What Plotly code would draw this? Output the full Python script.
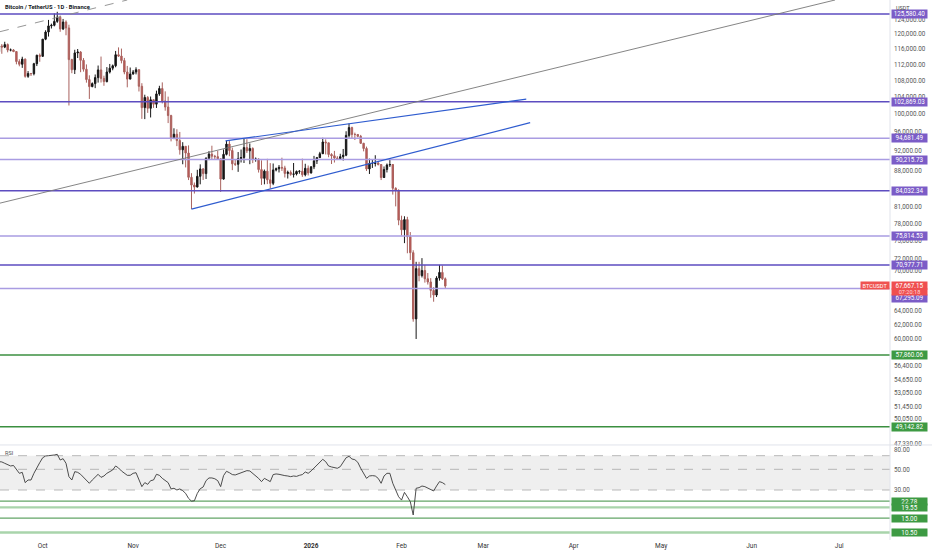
import math
import pandas as pd
import plotly.graph_objects as go
from plotly.subplots import make_subplots

# daily candles, 2025-09-16 .. 2026-02-16
dates = pd.date_range('2025-09-16', '2026-02-16', freq='D')

opens = [
    # sep
    115270, 116780, 116470, 117140, 115690, 115720, 115300, 112700, 112020, 113330, 108990, 109700, 109640, 112160, 114340,
    # oct
    114050, 118590, 120530, 122230, 122390, 123480, 124660, 121380, 123300, 121660, 113210, 110640, 114950, 115170, 113030, 110760,
    108190, 106470, 107200, 108670, 110590, 108480, 107690, 110070, 111030, 111640, 114470, 114120, 112960, 110060, 108310,
    # nov
    109560, 110070, 110640, 106550, 101500, 103890, 101350, 103340, 102310, 104720, 106010, 103060, 101650, 99690, 94600,
    95550, 94180, 92220, 92960, 91550, 86640, 85130, 84740, 86830, 88300, 87370, 90480, 91330, 90890, 90800,
    # dec
    90360, 86290, 91280, 93430, 92080, 89330, 89240, 90400, 90630, 92690, 92020, 92510, 90270, 90300, 88170, 86430,
    87860, 86140, 85460, 88100, 88340, 88620, 88490, 87410, 87610, 87230, 87300, 87800, 87840, 87140, 88430,
    # jan
    87510, 88730, 89940, 90600, 91410, 93880, 93700, 91250, 90980, 90510, 90400, 90800, 91100, 95300, 97000, 95500,
    95500, 95100, 93600, 92500, 88300, 89400, 89400, 89500, 89200, 86600, 88200, 89100, 89200, 84500, 84100,
    # feb
    78600, 76900, 78700, 75700, 73000, 62800, 70400, 69300, 70100, 68800, 68300, 67000, 66300, 68900, 69800, 68800,
]
highs = [
    116800, 117290, 117900, 117450, 116100, 115950, 115400, 113300, 113950, 113500, 110300, 109740, 112380, 114470, 114800,
    118650, 121020, 123900, 122850, 125710, 126200, 125130, 124170, 123770, 122550, 113430, 115770, 115970, 115420, 113600, 111980,
    109240, 107500, 109450, 111700, 114000, 109150, 111300, 112100, 111950, 115460, 116400, 116080, 113650, 111600, 111190,
    110560, 111250, 110770, 107300, 104530, 104200, 104100, 103450, 105500, 106670, 107500, 105330, 104080, 99870, 96850,
    96640, 96050, 93840, 92990, 93160, 87460, 85620, 88130, 89230, 88480, 90660, 91950, 93090, 91170, 92000,
    90420, 92310, 94150, 94080, 92690, 90290, 91760, 92290, 94590, 94480, 93560, 92750, 90630, 90470, 90050, 88180,
    90360, 89480, 89400, 88580, 89080, 90590, 88940, 87960, 88000, 89500, 87990, 88070, 90400, 89350, 89000,
    88830, 90960, 90740, 91800, 94790, 94440, 93740, 91520, 92000, 90900, 91400, 92400, 96200, 97900, 97200, 95900,
    95600, 95400, 93700, 92900, 90400, 90300, 91100, 89800, 89300, 88800, 89400, 90500, 89300, 84700, 84300,
    79400, 79300, 79200, 76500, 73400, 71500, 71500, 72100, 71000, 69700, 68900, 67500, 69200, 71000, 70900, 69000,
]
lows = [
    114400, 114720, 116200, 115100, 115350, 115150, 112000, 111500, 111100, 108650, 108620, 109070, 109230, 111560, 112660,
    113980, 118320, 119300, 121500, 122100, 123080, 120600, 121070, 119650, 102000, 109760, 109560, 113620, 110020, 110160, 107430,
    103530, 106320, 106100, 107450, 107470, 106670, 107500, 109700, 110500, 111250, 113900, 112250, 109500, 106300, 108250,
    109400, 109470, 105300, 98940, 98890, 100300, 99260, 101450, 101430, 104270, 102480, 100800, 98000, 94010, 94560,
    93000, 91220, 89250, 88610, 86100, 80600, 83500, 84680, 85270, 86120, 86310, 90090, 90180, 90160, 90340,
    83820, 86180, 91060, 90890, 88060, 88910, 87720, 89610, 89500, 91560, 89260, 89480, 89770, 87580, 85150, 85270,
    85310, 84450, 85110, 87820, 87600, 87900, 86600, 86400, 86950, 86600, 87010, 87350, 86720, 86830, 87000,
    87370, 88270, 89300, 90530, 91360, 91250, 90680, 89300, 89600, 90100, 90200, 90000, 90900, 94800, 94700, 94300,
    94900, 93500, 91900, 87900, 87300, 88500, 88800, 89000, 86100, 86500, 87600, 88700, 83300, 81100, 77700,
    75900, 74600, 72900, 71800, 62400, 60000, 68400, 69000, 68200, 67900, 65900, 65300, 66000, 68500, 68600, 67300,
]
closes = [
    116780, 116470, 117140, 115690, 115720, 115300, 112700, 112020, 113330, 108990, 109700, 109640, 112160, 114340, 114050,
    118590, 120530, 122230, 122390, 123480, 124660, 121380, 123300, 121660, 113210, 110640, 114950, 115170, 113030, 110760, 108190,
    106470, 107200, 108670, 110590, 108480, 107690, 110070, 111030, 111640, 114470, 114120, 112960, 110060, 108310, 109560,
    110070, 110640, 106550, 101500, 103890, 101350, 103340, 102310, 104720, 106010, 103060, 101650, 99690, 94600, 95550,
    94180, 92220, 92960, 91550, 86640, 85130, 84740, 86830, 88300, 87370, 90480, 91330, 90890, 90800, 90360,
    86290, 91280, 93430, 92080, 89330, 89240, 90400, 90630, 92690, 92020, 92510, 90270, 90300, 88170, 86430, 87860,
    86140, 85460, 88100, 88340, 88620, 88490, 87410, 87610, 87230, 87300, 87800, 87840, 87140, 88430, 87510,
    88730, 89940, 90600, 91410, 93880, 93700, 91250, 90980, 90510, 90400, 90800, 91100, 95300, 97000, 95500, 95500,
    95100, 93600, 92500, 88300, 89400, 89400, 89500, 89200, 86600, 88200, 89100, 89200, 84500, 84100, 78600,
    76900, 78700, 75700, 73000, 62800, 70400, 69300, 70100, 68800, 68300, 67000, 66300, 68900, 69800, 68800, 67667.15,
]

rsi_values = [
    60.4, 60.0, 58.0, 55.7, 54.3, 55.0, 50.0, 45.3, 46.4, 36.0, 38.4, 38.4, 45.3, 52.6, 59.0,
    66.5, 69.5, 70.0, 70.0, 71.2, 72.4, 62.9, 65.0, 58.0, 41.7, 38.4, 47.2, 46.4, 44.2, 41.0, 38.4,
    35.4, 38.4, 41.3, 44.2, 41.0, 42.4, 45.3, 47.2, 49.2, 54.3, 51.7, 48.0, 45.0, 43.1, 43.1,
    45.3, 46.0, 39.0, 32.6, 36.0, 34.5, 37.8, 38.4, 44.2, 43.1, 40.0, 37.8, 36.0, 30.8, 31.3,
    30.0, 30.8, 29.5, 27.6, 24.4, 22.8, 23.0, 27.6, 31.0, 32.3, 37.8, 40.4, 40.4, 39.6, 37.8,
    32.6, 42.8, 47.6, 46.0, 43.9, 43.5, 44.6, 46.0, 47.6, 48.4, 48.0, 45.3, 43.1, 40.0, 36.9, 40.0,
    38.4, 36.9, 43.9, 44.6, 44.2, 43.1, 42.8, 42.4, 41.7, 42.4, 42.0, 43.1, 43.9, 46.8, 45.3,
    48.0, 51.7, 55.2, 59.0, 64.0, 60.4, 54.3, 53.0, 52.2, 51.3, 53.4, 59.0, 66.5, 68.9, 64.5, 63.4,
    59.5, 51.3, 45.3, 40.0, 42.4, 42.8, 42.4, 40.0, 35.4, 42.4, 45.3, 45.3, 35.4, 30.0, 25.4,
    23.4, 28.3, 25.4, 22.5, 16.2, 31.3, 31.8, 33.1, 32.6, 31.3, 30.0, 29.3, 33.1, 36.9, 36.0, 34.3,
]

# horizontal levels drawn on the chart
purple_levels = [125580.40, 102869.03, 94681.49, 90215.73, 84032.34, 75814.53, 70977.71, 67295.09]
purple_strong = [True, True, False, False, True, False, True, False]
green_levels = [57860.06, 49142.82]
rsi_levels = [22.78, 19.55, 15.00, 10.50]
rsi_level_light = [False, True, False, True]
rsi_band = [30, 70]
rsi_guides = [70, 50, 30]

last_price = 67667.15
countdown = '07:20:18'

# drawings: (dates, prices)
gray_line_x = ['2025-09-16 09:00', '2026-06-29 14:00']
gray_line_y = [81700, 129640]
dashed_line_x = ['2025-09-16 09:00', '2025-10-30 00:00']
dashed_line_y = [120630, 129640]
wedge_top_x = ['2025-12-02 16:00', '2026-03-15 18:00']
wedge_top_y = [94100, 103500]
wedge_bot_x = ['2025-11-21 00:00', '2026-03-17 02:00']
wedge_bot_y = [80600, 98100]

price_ticks = [124000, 120000, 116000, 112000, 108000, 104000, 100000, 96000, 92000, 88000, 81000, 78000,
               75000, 72000, 70000, 64000, 62000, 60000, 56400, 54650, 53050, 51450, 50050, 47330]
rsi_ticks = [80, 50, 30]
month_ticks = ['2025-10-01', '2025-11-01', '2025-12-01', '2026-01-01', '2026-02-01',
               '2026-03-01', '2026-04-01', '2026-05-01', '2026-06-01', '2026-07-01']
month_labels = ['Oct', 'Nov', 'Dec', '<b>2026</b>', 'Feb', 'Mar', 'Apr', 'May', 'Jun', 'Jul']

view_start = '2025-09-16 09:00'
view_end = '2026-07-18 10:00'

PURPLE_DARK = '#5d4cc0'
PURPLE_LIGHT = '#a99ce2'
PURPLE_TAG = '#7b5cc7'
GREEN = '#3b8f40'
GREEN_TAG = '#3d9a43'
RED_TAG = '#ef4f4f'
FONT = 'Roboto'

fig = make_subplots(rows=2, cols=1, shared_xaxes=True, vertical_spacing=0.004)


def hline(level, color, width, row, dash='solid'):
    fig.add_trace(go.Scatter(x=[view_start, view_end], y=[level, level], mode='lines',
                             line=dict(color=color, width=width, dash=dash),
                             hoverinfo='skip', showlegend=False), row=row, col=1)


# rsi band
fig.add_trace(go.Scatter(x=[view_start, view_end], y=[rsi_band[0]] * 2, mode='lines',
                         line=dict(width=0), hoverinfo='skip', showlegend=False), row=2, col=1)
fig.add_trace(go.Scatter(x=[view_start, view_end], y=[rsi_band[1]] * 2, mode='lines',
                         line=dict(width=0), fill='tonexty', fillcolor='#efefef',
                         hoverinfo='skip', showlegend=False), row=2, col=1)
for g in rsi_guides:
    hline(g, '#a8a8a8', 0.8, 2, dash='dash')
for lvl, light in zip(rsi_levels, rsi_level_light):
    if light:
        hline(lvl, '#a9d4ab', 2.4, 2)
    else:
        hline(lvl, '#63a567', 1.2, 2)

fig.add_trace(go.Scatter(x=dates, y=rsi_values, mode='lines', line=dict(color='#3a3a3a', width=0.9),
                         hoverinfo='skip', showlegend=False), row=2, col=1)

# price pane levels + drawings
for lvl, strong in zip(purple_levels, purple_strong):
    if strong:
        hline(lvl, PURPLE_DARK, 1.6, 1)
    else:
        hline(lvl, PURPLE_LIGHT, 1.5, 1)
for lvl in green_levels:
    hline(lvl, GREEN, 1.5, 1)

fig.add_trace(go.Scatter(x=gray_line_x, y=gray_line_y, mode='lines', line=dict(color='#777777', width=0.9),
                         hoverinfo='skip', showlegend=False), row=1, col=1)
fig.add_trace(go.Scatter(x=dashed_line_x, y=dashed_line_y, mode='lines',
                         line=dict(color='#8a8a8a', width=0.9, dash='dash'),
                         hoverinfo='skip', showlegend=False), row=1, col=1)
for xs, ys in [(wedge_top_x, wedge_top_y), (wedge_bot_x, wedge_bot_y)]:
    fig.add_trace(go.Scatter(x=xs, y=ys, mode='lines', line=dict(color='#2f5ccf', width=1.2),
                             hoverinfo='skip', showlegend=False), row=1, col=1)

fig.add_trace(go.Candlestick(x=dates, open=opens, high=highs, low=lows, close=closes,
                             increasing=dict(line=dict(color='#161616', width=1), fillcolor='#161616'),
                             decreasing=dict(line=dict(color='#a9625e', width=1), fillcolor='#c2524f'),
                             whiskerwidth=0, showlegend=False, hoverinfo='skip'), row=1, col=1)

# right-hand tags
annos = []


def tag(text, value, yref, bg, yshift=0, size=6.3, height=8, xanchor='left', x_shift=1, width=35):
    annos.append(dict(x=1, xref='paper', y=math.log10(value), yref=yref, xanchor=xanchor, yanchor='middle',
                      text=text, showarrow=False, font=dict(family=FONT, size=size, color='white'),
                      bgcolor=bg, borderpad=0, xshift=x_shift, yshift=yshift, width=width, height=height,
                      align='center', valign='middle'))


for lvl in purple_levels:
    if lvl == 67295.09:
        tag(f'{lvl:,.2f}', lvl, 'y', PURPLE_TAG, yshift=-10.2, height=6.5)
    else:
        tag(f'{lvl:,.2f}', lvl, 'y', PURPLE_TAG)
for lvl in green_levels:
    tag(f'{lvl:,.2f}', lvl, 'y', GREEN_TAG)
for lvl in rsi_levels:
    tag(f'{lvl:,.2f}', lvl, 'y2', GREEN_TAG, height=7)
# last price + countdown + symbol
tag(f'{last_price:,.2f}', last_price, 'y', RED_TAG, yshift=0.5, height=7)
tag(f'<span style="color:#ffd6d6">{countdown}</span>', last_price, 'y', RED_TAG, yshift=-6, height=6,
    size=5.6)
tag('BTCUSDT', last_price, 'y', '#ef5350', yshift=0.5, height=7, size=5.6, xanchor='right', x_shift=0, width=28)

annos.append(dict(x=0, xref='paper', y=1, yref='paper', xanchor='left', yanchor='top', xshift=3, yshift=-2,
                  text='<b>Bitcoin / TetherUS · 1D · Binance</b>', showarrow=False,
                  font=dict(family=FONT, size=5.8, color='#131722')))
annos.append(dict(x=1, xref='paper', y=1, yref='paper', xanchor='left', yanchor='top', xshift=4, yshift=-3,
                  text='USDT', showarrow=False, font=dict(family=FONT, size=5.5, color='#444444')))
annos.append(dict(x=0, xref='paper', y=1, yref='y2 domain', xanchor='left', yanchor='top', xshift=3, yshift=-2,
                  text='RSI', showarrow=False, font=dict(family=FONT, size=5.5, color='#555555')))

fig.update_layout(
    width=932, height=550,
    margin=dict(l=0, r=42, t=0, b=10),
    paper_bgcolor='white', plot_bgcolor='white',
    hovermode=False,
    annotations=annos,
    xaxis=dict(range=[view_start, view_end], showgrid=False, showticklabels=False, rangeslider=dict(visible=False),
               zeroline=False),
    xaxis2=dict(range=[view_start, view_end], showgrid=False, tickvals=month_ticks, ticktext=month_labels,
                tickfont=dict(family=FONT, size=6.5, color='#333333'), ticks='', zeroline=False),
    yaxis=dict(domain=[0.1778, 1], type='log', range=[4.6745, 5.11272], side='right', showgrid=False,
               tickvals=price_ticks, ticktext=[f'{t:,.2f}' for t in price_ticks],
               tickfont=dict(family=FONT, size=6.3, color='#555555'), ticks='', ticklabelstandoff=3,
               zeroline=False),
    yaxis2=dict(domain=[0, 0.1741], type='log', range=[0.9411, 1.9491], side='right', showgrid=False,
                tickvals=rsi_ticks, ticktext=[f'{t:.2f}' for t in rsi_ticks],
                tickfont=dict(family=FONT, size=6.3, color='#555555'), ticks='', ticklabelstandoff=3,
                zeroline=False),
    shapes=[
        dict(type='line', xref='paper', yref='paper', x0=1, x1=1, y0=0, y1=1, line=dict(color='#e0e3eb', width=1)),
        dict(type='line', xref='paper', yref='paper', x0=0, x1=1.05, y0=0.176, y1=0.176,
             line=dict(color='#e0e3eb', width=1)),
    ],
)

# page margin off so the chart sits flush in the window
fig.write_html("out.html", config={'displayModeBar': False},
               post_script="document.body.style.margin='0';document.body.style.overflow='hidden';")
